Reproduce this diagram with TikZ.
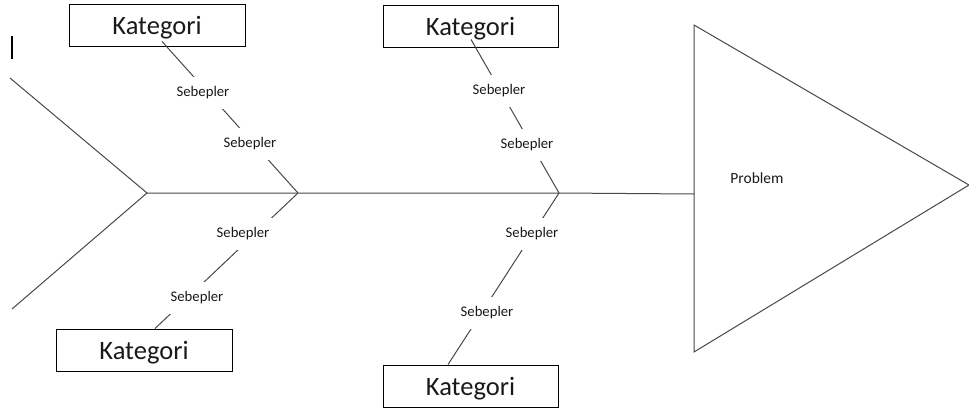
\documentclass[tikz,border=0pt]{standalone}
\usepackage{fontspec}
\setmainfont{Carlito}
\usetikzlibrary{calc}
\definecolor{linegray}{RGB}{72,72,72}
\definecolor{textdark}{RGB}{25,25,25}
\begin{document}
\begin{tikzpicture}[x=1pt,y=-1pt,
  bone/.style={draw=linegray, line width=1pt},
  catbox/.style={draw=black, line width=0.9pt, minimum width=176pt, minimum height=42pt,
    inner sep=0pt, text depth=0pt, font=\fontsize{26.5}{30}\selectfont, text=textdark},
  cause/.style={fill=white, inner xsep=5pt, inner ysep=10pt,
    font=\fontsize{14.7}{17}\selectfont, text=textdark},
  effect/.style={inner sep=0pt, font=\fontsize{15.5}{18}\selectfont, text=textdark},
]
\useasboundingbox (0,0) rectangle (969,410);

% category boxes
\node[catbox] (catA) at (157,25) {Kategori};
\node[catbox] (catB) at (144,350) {Kategori};
\node[catbox, minimum width=175pt] (catC) at (470.5,26) {Kategori};
\node[catbox, minimum width=175pt] (catD) at (470.5,386) {Kategori};

% skeleton points
\coordinate (mk1) at (12,36);
\coordinate (mk2) at (12,59);
\coordinate (tailTop) at (10,78);
\coordinate (tailBot) at (12,309);
\coordinate (apex) at (147,193);
\coordinate (j1) at (298,193);
\coordinate (j2) at (559,193);
\coordinate (headIn) at (694,194);
\coordinate (headTop) at (694,25);
\coordinate (headBot) at (694,352);
\coordinate (headTip) at (969,185);

% branch ends next to the boxes
\coordinate (bA) at ($(catA.south)+(5,-5)$);
\coordinate (bB) at ($(catB.north)+(11,0)$);
\coordinate (bC) at ($(catC.south)+(0.5,-8)$);
\coordinate (bD) at ($(catD.north)+(-22.5,0)$);

% stray mark at the top left
\draw[draw=black, line width=1.2pt] (mk1) -- (mk2);

% tail, spine and head
\draw[bone] (tailTop) -- (apex) -- (tailBot);
\draw[bone] (apex) -- (j1) -- (j2) -- (headIn);
\draw[bone] (headTop) -- (headTip) -- (headBot) -- cycle;
\node[effect] (prob) at (757,178) {Problem};

% bones to the categories
\draw[bone] (bA) -- (j1);
\draw[bone] (j1) -- (bB);
\draw[bone] (bC) -- (j2);
\draw[bone] (j2) -- (bD);

% causes along the bones
\node[cause] (cA1) at (203,93) {Sebepler};
\node[cause] (cA2) at (250,144) {Sebepler};
\node[cause] (cB1) at (243,234) {Sebepler};
\node[cause] (cB2) at (197,298) {Sebepler};
\node[cause] (cC1) at (499,91) {Sebepler};
\node[cause] (cC2) at (527,145) {Sebepler};
\node[cause] (cD1) at (532,234) {Sebepler};
\node[cause] (cD2) at (487,313) {Sebepler};
\end{tikzpicture}
\end{document}
